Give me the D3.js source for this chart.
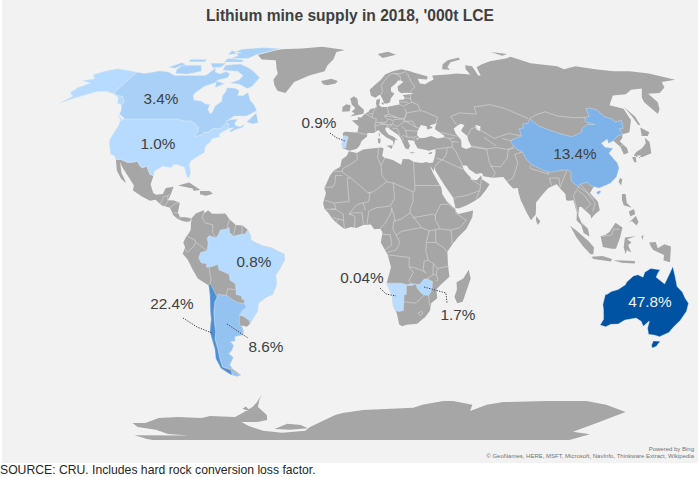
<!DOCTYPE html>
<html>
<head>
<meta charset="utf-8">
<script src="https://cdn.jsdelivr.net/npm/d3@7"></script>
<style>
html,body{margin:0;padding:0;background:#fff;}
svg{display:block;}
text{font-family:"Liberation Sans",Arial,sans-serif;}
</style>
</head>
<body>
<script>
var w = 698;
var h = 477;

//-----values-----
var countries = ["Australia","Chile","China","Argentina","Canada","Zimbabwe","USA","Portugal","Brazil","Namibia"];
var shares = [47.8,22.4,13.4,8.6,3.4,1.7,1.0,0.9,0.8,0.04];
var shareLabels = ["47.8%","22.4%","13.4%","8.6%","3.4%","1.7%","1.0%","0.9%","0.8%","0.04%"];

//-----robinson table-----
var robLat = [0,5,10,15,20,25,30,35,40,45,50,55,60,65,70,75,80,85,90];
var robLen = [1,.9986,.9954,.99,.9822,.973,.96,.9427,.9216,.8962,.8679,.835,.7986,.7597,.7186,.6732,.6213,.5722,.5322];
var robDepth = [0,.062,.124,.186,.248,.31,.372,.434,.4958,.5571,.6176,.6769,.7346,.7903,.8435,.8936,.9394,.9761,1];

//-----outlines, lon/lat-----
var usaLower = [[-124.7,48.4],[-123,49],[-95.2,49],[-94.6,48.7],[-92,48.3],[-89.6,48],[-88.4,48.3],[-84.9,46.9],[-84.5,46.5],[-83.5,46],[-82.5,45.3],[-82.1,43.5],[-82.5,42.6],[-83.1,42.1],[-82.4,41.7],[-79,42.8],[-79.1,43.4],[-76.8,43.6],[-76.3,44.2],[-75,45],[-71.5,45],[-70.8,45.4],[-70.3,46.2],[-70,46.7],[-69.2,47.4],[-68.3,47.3],[-67.8,47],[-67.8,45.7],[-67,44.9],[-69,44],[-70.7,43],[-71,42.3],[-70,41.7],[-71.4,41.4],[-74,40.7],[-74,39.5],[-75.5,38.5],[-76,37],[-75.6,35.3],[-77,34.5],[-79,33.3],[-81,32],[-81.4,30.5],[-80.5,28.3],[-80,26.8],[-80.4,25.2],[-81.2,25.2],[-82,26.7],[-82.8,28],[-83.5,29.4],[-85,29.7],[-87,30.4],[-89,30.3],[-89.5,29.2],[-91,29.3],[-93.8,29.7],[-95,29],[-97.2,27.7],[-97.2,25.9],[-99,26.4],[-100.5,28.5],[-101.5,29.8],[-103,29],[-104.5,29.7],[-106.5,31.8],[-108.2,31.4],[-111,31.3],[-114.8,32.5],[-117.1,32.5],[-118.5,34],[-120.6,34.6],[-122,36.8],[-123.8,39.3],[-124.3,40.4],[-124.2,43],[-124,46.3]];
var alaska = [[-141,69.6],[-148,70.4],[-156.5,71.3],[-162,70.2],[-166.5,68.4],[-162,66.5],[-168,65.6],[-161,64.5],[-165,62.5],[-166,60.3],[-162,58.6],[-165,55.6],[-160,57.8],[-155,59.5],[-151,60.7],[-146,60.8],[-141,59.8],[-136,58.2],[-133,55.5],[-130.3,54.8],[-130,56],[-134,58.6],[-137.5,59],[-141,60.3]];
var canadaMain = [[-141,69.6],[-135,69],[-128,70.2],[-122,69.8],[-115,68],[-108,68],[-100,68],[-96,68.2],[-94,71.8],[-92,69.7],[-88,68.8],[-85,69.8],[-82,69],[-81.5,67],[-86,66],[-87,64.6],[-92,63],[-94.5,60],[-94.5,58.8],[-92.5,57],[-88,56.5],[-85,55.3],[-82.3,55],[-82,53],[-80,51.3],[-79,51.5],[-79,54.5],[-76.8,56.5],[-78,58.7],[-77.5,60.5],[-78,62.4],[-73,62.2],[-70,61],[-69.5,59],[-66.5,58.8],[-64.5,60.3],[-61.5,57],[-58,54.8],[-55.7,52.5],[-60,50.2],[-66.5,50.2],[-70,47.8],[-68,48.7],[-64.4,49],[-64.5,47.9],[-65,47],[-64,46.2],[-61.5,45.8],[-60,46.9],[-60,45.9],[-61,45.2],[-63.5,44.6],[-65.6,43.5],[-66.2,44.3],[-64.5,45.3],[-67,45.1],[-67.8,45.7],[-67.8,47],[-68.3,47.3],[-69.2,47.4],[-70,46.7],[-70.3,46.2],[-70.8,45.4],[-71.5,45],[-75,45],[-76.3,44.2],[-76.8,43.6],[-79.1,43.4],[-79,42.8],[-82.4,41.7],[-83.1,42.1],[-82.5,42.6],[-82.1,43.5],[-82.5,45.3],[-83.5,46],[-84.5,46.5],[-84.9,46.9],[-88.4,48.3],[-89.6,48],[-92,48.3],[-94.6,48.7],[-95.2,49],[-123,49],[-125,50],[-127.5,51],[-128,52.5],[-130.3,54.8],[-130,56],[-134,58.6],[-137.5,59],[-141,60.3]];
var canadaIslands = [
 [[-59,47.7],[-55.5,51.5],[-53,47.5],[-55.5,46.9]],
 [[-128,50.7],[-123.5,48.4],[-125,48.8]],
 [[-80,73.7],[-72,71.5],[-68,70],[-62,67],[-64,63],[-66,62],[-72,64],[-78,64.5],[-73.5,66],[-73,68],[-78,70],[-88,70.5],[-89,73]],
 [[-117,73],[-105,73],[-101,70],[-108,68.7],[-116,69],[-118,71]],
 [[-125,72],[-120,74.3],[-116,73.5],[-120,71.5]],
 [[-90,76.5],[-78,76.5],[-75,78.5],[-66,81],[-62,82.5],[-75,83],[-90,82],[-92,80],[-87,78]],
 [[-92,76.5],[-80,75.7],[-80,74.6],[-92,74.7]],
 [[-117,76],[-106,76],[-105,74.8],[-116,74.8]],
 [[-96,81],[-87,79.5],[-95,78.5]],
 [[-100,74],[-90,74],[-91,72],[-96,71.8]],
 [[-87,65.5],[-81,64.2],[-85,62.5]]
];
var mexicoCentral = [[-117.1,32.5],[-114.8,32.5],[-111,31.3],[-108.2,31.4],[-106.5,31.8],[-104.5,29.7],[-103,29],[-101.5,29.8],[-100.5,28.5],[-99,26.4],[-97.2,25.9],[-97.8,22.4],[-96,19],[-94.5,18.2],[-91.5,18.5],[-90.5,21],[-87,21.5],[-87.8,18.3],[-88.8,16],[-86,15.9],[-83.2,15],[-83.7,11],[-82.5,9.2],[-80,9.2],[-77.4,8.7],[-78,7.5],[-80,7.4],[-81.7,7.8],[-83.6,8.5],[-85.7,10],[-87.5,13],[-91.5,14],[-94.5,16.2],[-97,15.8],[-101,17.5],[-105.5,20],[-105.5,22],[-109,25.7],[-112.5,29],[-114.7,31.5],[-112.5,27],[-110,24],[-109.5,23],[-112,24.7],[-115,28]];
var southAmerica = [[-77.4,8.7],[-75.5,10.7],[-72,12],[-71.5,10.8],[-70,12],[-68,10.6],[-64,10.6],[-62,10.7],[-60,8.4],[-57,6],[-54,5.8],[-51.6,4.2],[-50,1.5],[-50,0],[-48,-1],[-44,-2.5],[-41,-3],[-37,-4.8],[-35,-5.5],[-34.8,-8],[-37,-11.5],[-39,-14],[-39,-18],[-41,-22],[-44,-23],[-48,-25.5],[-48.7,-28.5],[-52,-32.3],[-53.5,-34],[-55,-35],[-57.5,-34.5],[-57,-36.5],[-57.7,-38.2],[-62,-39],[-62.3,-40.8],[-65,-41],[-63.7,-42.5],[-65.3,-44.5],[-67.5,-46],[-65.8,-47.5],[-69,-50.5],[-68.4,-52.4],[-65.2,-54.8],[-68,-55.5],[-71,-54.5],[-74.5,-52],[-75,-48],[-73.7,-44],[-73.5,-40],[-73.5,-37],[-71.5,-32],[-71,-28],[-70.2,-22],[-70.3,-18.3],[-75,-15.5],[-77,-12],[-79,-8],[-81.2,-5.5],[-80,-3],[-80.8,-1],[-79.7,1],[-78.5,2.5],[-77.5,4],[-77.5,7]];
var brazil = [[-51.6,4.2],[-50,1.5],[-50,0],[-48,-1],[-44,-2.5],[-41,-3],[-37,-4.8],[-35,-5.5],[-34.8,-8],[-37,-11.5],[-39,-14],[-39,-18],[-41,-22],[-44,-23],[-48,-25.5],[-48.7,-28.5],[-52,-32.3],[-53.4,-33.7],[-53.2,-32.7],[-55.5,-30.9],[-57.6,-30.2],[-55.8,-28.3],[-53.8,-27],[-54.6,-25.6],[-54.3,-24],[-55.4,-24],[-55.7,-22.4],[-58,-22],[-57.8,-20],[-58,-17.5],[-60.2,-16.3],[-60.5,-13.8],[-65,-12],[-65.4,-9.8],[-68,-10.7],[-70.6,-11],[-70.5,-9.5],[-72.8,-9.3],[-74,-7.3],[-73,-5],[-70,-4.3],[-69.5,-1],[-70,0.6],[-69.2,1.7],[-67,1.2],[-66,0.8],[-65,2],[-64,4],[-61,4.5],[-60,5.1],[-59.8,3],[-58,1.5],[-56,2],[-54,2.3],[-52.5,2.5]];
var argentina = [[-66.3,-21.8],[-64.5,-22.2],[-62.6,-22.2],[-60,-24],[-57.7,-25.2],[-54.6,-25.6],[-53.8,-27],[-55.8,-28.3],[-57.6,-30.2],[-58.2,-33],[-58.4,-34],[-57.2,-35.5],[-57.7,-38.2],[-62,-39],[-62.3,-40.8],[-65,-41],[-63.7,-42.5],[-65.3,-44.5],[-67.5,-46],[-65.8,-47.5],[-69,-50.5],[-68.4,-52.4],[-73.4,-51.5],[-73,-48],[-72.2,-44],[-72,-40],[-70.7,-37],[-70.2,-33],[-69.5,-29],[-68.3,-25],[-67,-23]];
var fuego = [[-69.5,-52.8],[-65.2,-54.8],[-68,-55.2],[-70,-54.8]];
var chile = [[-69.5,-17.5],[-68.3,-20],[-67,-23],[-68.3,-25],[-69.5,-29],[-70.2,-33],[-70.7,-37],[-72,-40],[-72.2,-44],[-73,-48],[-73.4,-51.5],[-69.5,-52.8],[-70,-54.8],[-71,-54.5],[-74.5,-52],[-75,-48],[-73.7,-44],[-73.5,-40],[-73.5,-37],[-71.5,-32],[-71,-28],[-70.2,-22],[-70.3,-18.3]];
var greenland = [[-73,78.2],[-68,76],[-58,75.5],[-54,71],[-52,69],[-53,66],[-51,63.5],[-48,61],[-43,60],[-40,65],[-32,68],[-23,70],[-22,73],[-19,76],[-18,80],[-12,81.5],[-30,83.6],[-45,82.5],[-60,82],[-65,81],[-73,78.5]];
var eurasia = [[-5.6,36],[-9,37],[-9.5,38.7],[-8.8,41.8],[-9.2,43.2],[-8,43.7],[-1.8,43.4],[-1.2,46],[-4.7,48.3],[-1.5,48.7],[-1.8,49.7],[0.2,49.6],[1.6,50.8],[4,52],[4.8,53],[8.5,53.8],[8.2,55.5],[8.5,57],[10.6,57.7],[10.3,56],[9.8,54.8],[11,54],[14,54],[18.5,54.7],[21,55],[21,57],[24,57.2],[24.3,58.3],[23.5,59.2],[28,59.5],[30,60],[25,60.1],[22.9,59.9],[21.3,61],[21.5,63],[25.3,65],[24,65.8],[22,65.6],[21,64.5],[17.5,62.5],[17.2,60.7],[19,59.8],[16.5,57.5],[16,56],[14.3,55.5],[12.8,55.5],[11.2,58.8],[10.5,59.3],[8,58],[5.6,58.8],[5,61.5],[8,63.5],[12,66],[15,68.5],[20,70],[26,71],[31,70],[33,69.4],[41,67.5],[40,66.2],[34.5,66.5],[35,64.3],[38,64],[40.5,65],[44,66.2],[44,68],[54,68.5],[60,69],[68,68.5],[67,71],[68.5,73],[72.5,72.5],[72.5,68],[74,68],[75,72],[80,73.5],[87,75],[100,76.5],[105,77.5],[113,74],[128,72.5],[130,71],[140,72.5],[150,71],[160,70],[170,70],[180,69],[190,66],[180,65],[177,62.5],[170,60],[163,59.7],[163,56],[160,53],[156.7,51],[155.5,56],[157,58],[163,62],[156,61.5],[150,59.5],[142,59],[135,54.7],[141,53.3],[140,48.5],[135,43.5],[131,42.7],[129.5,41],[127.5,39.8],[129.5,37],[129,35.2],[126.5,34.5],[126.5,37.5],[124.5,40],[121.5,39],[122,40.8],[118,39],[119,37.3],[122.5,37],[119.5,35],[121.8,31],[121.8,29],[119.5,25.5],[116,22.9],[110.5,21],[108,21.5],[105.8,19],[108.8,15.5],[109.3,12],[107,10.5],[105,8.7],[104.8,10],[102.5,12],[100.9,13.4],[100,13.3],[99.2,10],[100.5,7],[103.3,4.5],[103.9,1.4],[101.3,2.8],[100.3,6],[98.3,8],[98.7,11],[97.7,16],[95.5,15.8],[94.3,16],[94.4,18.5],[92.3,20.8],[91,22.5],[88.5,21.6],[86.9,21],[84,18.5],[80.3,15],[80.2,13],[79.8,10.3],[77.5,8],[75.5,11.5],[73.5,16],[72.8,19],[72.7,21],[70.5,20.8],[69,22.3],[67.3,24.5],[66.5,25.4],[61.5,25.1],[57.3,25.7],[56.8,27],[54,26.6],[51,28.5],[50,30],[48,30],[48.5,28.3],[50,26.5],[51.5,25],[51,24.5],[54,24.1],[56.3,26],[56.5,24.5],[59.8,22.5],[58,20.4],[55,17.3],[52,15.6],[48.5,14],[45,12.8],[43.3,12.8],[42.8,15],[42.5,17],[39.2,21.5],[37.2,24.5],[35,28],[34.9,29.5],[34.2,31.3],[35,32.8],[35.9,35],[36.2,36.7],[33,36],[30.5,36.5],[27.5,37],[26.3,39.3],[26.3,40],[23,40.3],[24,38],[23,36.5],[21.5,37],[19.5,41.5],[18.5,42.5],[15,44.5],[13.7,45.6],[12.3,45.3],[12.5,44],[14,42.5],[16.2,41.7],[18.4,40],[17,40.5],[16.5,39.5],[16,38],[15.7,40],[12.5,41.5],[10.3,43],[8.8,44.4],[6.5,43.2],[3.2,43.2],[3,41.8],[0.2,39.8],[-0.5,38.3],[-2,36.8]];
var africa = [[-5.9,35.8],[-2,35.1],[1,36.5],[5,36.9],[10,37.3],[11,36.9],[10.2,34],[11.2,33.2],[15.2,32.3],[19,30.3],[20,32.7],[23,32.6],[25.2,31.5],[29,31],[31,31.5],[32.6,31],[34.2,31.3],[34.9,29.5],[34.2,27.8],[32.6,30],[33.8,27],[35.8,23.5],[37.3,21],[37.5,18.5],[39.5,15.5],[43.2,12.5],[43.3,11.5],[44.5,10.5],[51.3,11.9],[50.8,9.3],[48,4.5],[44,1],[41.5,-1.8],[39.3,-4.7],[39.5,-7],[39.7,-10],[40.6,-14.8],[37,-17.8],[34.9,-19.9],[35.5,-23.5],[32.8,-25.5],[32.5,-28.5],[30.5,-31],[27,-33.8],[22,-34.2],[19.8,-34.8],[18.3,-34],[17,-29.7],[15,-26.5],[14.5,-22.5],[11.8,-17.5],[13.7,-11],[12.2,-6],[9,-1],[9.8,3],[8.8,4.5],[6,4.3],[4.5,6.3],[1,6],[-2,4.8],[-4.5,5.2],[-7.5,4.4],[-10.5,6.5],[-13,8.5],[-15,11],[-16.7,12.5],[-17.4,14.7],[-16.2,19],[-17,21],[-14.5,26],[-12.9,27.9],[-9.8,29.5],[-9.2,32.5],[-6.8,34]];
var greyIslands = [
 [[-24,65.5],[-18,66.5],[-14,65.5],[-15,64.3],[-20,63.5],[-22.5,64]],
 [[-85,22],[-80,23.2],[-74.3,20.2],[-77.5,19.9],[-78,20.8]],
 [[-74.4,19.8],[-70,19.8],[-68.4,18.6],[-71.5,17.8],[-74.4,18.4]],
 [[-5.5,50],[1.3,51.2],[1.6,52.7],[-1.5,55],[-2,57.5],[-4,58.6],[-6,57.5],[-5,55],[-3,53.5],[-5,52],[-3.3,51.4]],
 [[-10,52],[-6,52.2],[-5.6,54.7],[-8,55.2],[-10,54]],
 [[12,79],[20,80.3],[25,78.5],[15,76.8]],
 [[52,71],[54,73.5],[59,75.5],[68,77],[68,76],[60,74.5],[56,72],[57,70.8]],
 [[95,80],[105,79],[100,78]],
 [[12.5,38],[15.5,38.2],[15,36.7]],
 [[8.3,41],[9.7,41],[9.5,39],[8.5,39]],
 [[8.7,43],[9.5,43],[9.3,41.5]],
 [[23.5,35.5],[26.3,35.2],[24.5,34.9]],
 [[32.3,35],[34.5,35.6],[34,34.8],[33,34.6]],
 [[10.9,55.7],[12.5,56],[12.3,54.8]],
 [[142,54],[143.5,50],[143,46.5],[142,46.5],[142,50]],
 [[131,34],[135,33.5],[140,35],[142,39.5],[141,41.3],[139.8,39],[136.7,37],[133,35.5]],
 [[140,42],[142,45.4],[145,43.5],[143,42]],
 [[130,33.5],[131.8,33.5],[131,31.2],[130,31.5]],
 [[132.5,34],[134.5,34.2],[133.5,33]],
 [[121,25],[122,24.5],[120.8,22],[120,23.5]],
 [[80,9.7],[81.8,7.5],[80.5,6],[79.8,8]],
 [[95.3,5.6],[98,3.8],[103.5,-0.5],[106,-3],[105.8,-5.7],[104.5,-5.7],[101,-2.5],[98,1]],
 [[109,1.5],[111,2],[113,3.2],[116,7],[119,5],[117.8,1],[116,-3.5],[114,-3.5],[110,-2.8]],
 [[119.5,-3],[120,1],[125,1.5],[121,0.3],[123,-1],[121.5,-2],[123,-5],[121,-4],[120.5,-5.6]],
 [[105,-6.8],[110,-6.5],[114.5,-7.7],[114,-8.7],[106,-7.7]],
 [[115,-8.2],[119,-8.3],[125,-8.5],[125,-9.5],[119,-9.2]],
 [[131,-1],[134,-0.8],[135,-3.3],[138,-1.7],[141,-2.6],[141,-9],[138,-8.3],[138,-6],[133,-4],[132,-2.8]],
 [[120.5,18.5],[122.2,18.5],[122,15],[124,13],[120.5,14],[120,16]],
 [[122,7],[125.5,9.7],[126.5,7.3],[125.5,5.8],[123.5,7.7]],
 [[122.5,11.5],[125,12.5],[125.3,10.5],[123,9.5]],
 [[127.5,1.5],[128.5,2],[128,0]],
 [[49.3,-12],[50.4,-15.5],[47.5,-24.9],[45,-25.5],[43.5,-23],[44.4,-20],[44,-17],[47,-15.5]],
 // berkner and alexander islands
 [[-64,-80.7],[-52,-77.8],[-43,-78.4],[-39,-80.2],[-53,-81.2]],
 [[-75,-70],[-72,-69],[-71,-71.5]]
];
var antarctica = [[-160,-77.3],[-151,-77.3],[-136,-74.7],[-122,-74.1],[-107,-74.6],[-100,-73.6],[-84,-74.1],[-77,-72.1],[-68,-69.2],[-63.5,-66.9],[-58,-63.1],[-61,-65.5],[-64.6,-69.2],[-62,-73.1],[-64,-75.7],[-72,-76.8],[-83,-76.8],[-81,-78.9],[-74,-82],[-61,-83.4],[-42,-82],[-37,-79.5],[-17,-73.1],[-12,-72.1],[1.3,-70.6],[33,-69.6],[38,-68.2],[50,-66.4],[56,-66.4],[69,-68.2],[70,-71.1],[78,-68.2],[87,-66.9],[113,-66.4],[137,-66.4],[152,-68.2],[171,-71.7],[165,-77.3],[162,-82.7],[180,-84.4],[178,-90],[-178,-90],[-180,-89],[-180,-85],[-138,-85.3],[-151,-84.1],[-153,-81.2],[-162,-79.5]];
var seas = [
 [[47,45],[51,47],[53,46.5],[51,44.7],[50.5,44],[53,42],[53,40],[54,37.5],[51,36.7],[49,37.5],[49.5,40.3],[47.5,43]],
 [[28,42.5],[28.7,44.3],[30.7,46.5],[33.5,46],[33.4,44.6],[35.3,45],[36.5,45.3],[35,46.3],[39,47.2],[38,46],[37.5,44.7],[41.5,42.2],[41.5,41.5],[38,41],[35,42],[31.5,41.2],[29,41.2]],
 [[58.5,46.5],[61,46],[60,44],[58.5,44.5]],
 [[27,41],[29,41],[28,40.4]]
];
var australia = [[113.5,-22],[114.2,-22],[116,-20.8],[119,-20],[122,-18],[122.3,-17],[125,-14.5],[127,-14],[129.5,-15],[130,-13],[132.5,-11.5],[136.8,-12],[136,-13.5],[135.5,-15],[140,-17.7],[141.5,-13.5],[142.5,-10.7],[144,-14.3],[146,-18.8],[149,-21],[151,-23.5],[153.2,-25.5],[153.6,-28.7],[152.5,-32.5],[150.8,-35],[150,-37.3],[146.5,-39],[144,-38.4],[140.5,-38],[138.5,-35.5],[138,-33],[137.8,-32.7],[136,-34.8],[134,-32.8],[131,-31.5],[126,-32.3],[123.5,-33.9],[120,-34],[118,-35],[115,-34.3],[115.7,-32],[114.2,-28],[113.3,-26]];
var tasmania = [[144.7,-40.7],[148.3,-40.9],[148,-43],[146.5,-43.6],[145.3,-42.5]];
var china = [[73.7,39.4],[75,40.5],[80,42],[80.3,45],[82.5,45.2],[83,47],[85.7,47],[87.8,49.1],[91,46],[95.5,44.3],[101,42.6],[105,41.7],[111,43.5],[112,45],[116,46.7],[119.8,46.7],[115.8,47.8],[117,49.6],[119.5,50],[120.8,53.3],[123.5,53.5],[126,52.8],[127.5,50],[130.8,48.8],[131,47.7],[135,48.4],[133,45],[131,45],[131,43],[130.5,42.5],[128,42],[124.4,40],[121.5,39],[122,40.8],[118,39],[119,37.3],[122.5,37],[119.5,35],[121.8,31],[121.8,29],[119.5,25.5],[116,22.9],[110.5,21],[108,21.5],[106.7,22],[105.3,23.3],[102,22.5],[101,21.5],[99.5,22.5],[98,24],[98.7,27.5],[97,28.3],[92,27.8],[89,27.3],[86,28],[81,30.3],[79,32.5],[78,35.5],[75.5,36.7]];
var hainan = [[108.7,19.3],[110.5,20],[111,19.5],[109.5,18.2]];
var portugal = [[-9,37],[-7.4,37.2],[-7,39.6],[-6.3,41.6],[-8.2,42.1],[-8.8,41.8],[-9.5,38.7]];
var namibia = [[11.8,-17.3],[13.5,-17.4],[18.5,-17.4],[21,-18],[23.3,-17.6],[25.2,-17.8],[23.3,-18.3],[21,-18.3],[21,-22],[20,-22],[20,-28.4],[18,-28.8],[16.5,-28.6],[15,-26.5],[14.5,-22.5]];
var zimbabwe = [[25.3,-17.8],[27,-17.9],[29,-15.8],[30.4,-15.6],[32.9,-16.7],[32.9,-20],[31.5,-22.3],[29.4,-22.2],[28,-21.5],[26,-19.5]];

var borderLines = [
 // south america
 [[-71.5,11.8],[-72.5,9],[-71,6.9],[-67.5,6.1],[-67.5,3],[-66,1]],[[-78.8,1.4],[-75.5,0],[-75.2,-0.9],[-70,-4.3]],[[-80.2,-3.4],[-79,-5],[-76,-2.5],[-75.2,-0.9]],[[-69.5,-11],[-69,-16],[-69.5,-17.5]],[[-60,8.4],[-61,5]],[[-57,6],[-58,2]],[[-54,5.8],[-54.3,2.3]],[[-62.6,-22.2],[-61.7,-19.7],[-58,-20]],
 // central america
 [[-92,14.5],[-91,17.5],[-89,17.8],[-88.2,18.5]],[[-89,17.8],[-89,15.9]],[[-90,13.7],[-88.5,15.8]],[[-87.5,13],[-85,14.8],[-83.2,15]],[[-85.7,11],[-83.7,11]],[[-83,8.5],[-82.5,9.5]],[[-77.4,8.7],[-77.5,7.2]],
 // africa
 [[-2,35.1],[-1.7,32.5],[-5,30.5],[-8.7,28.7],[-8.7,27.3]],[[-8.7,27.7],[-13,27.7]],[[-8.7,26],[-12,26],[-12,23.5],[-13,21.3],[-17,21.3]],[[-8.7,27.3],[-4.8,25],[3.3,19],[4.2,19.1],[3.5,15.4],[1,15]],[[3.3,19],[5.8,19.5],[12,23.5]],[[8.5,37],[8,33],[9.5,30.2],[9.8,26],[12,23.5]],[[11.5,33.1],[9.5,30.2]],[[25,31.6],[25,22],[36.9,22]],[[12,23.5],[15,23],[24,19.5],[24,15.7],[22.5,12.8],[22.5,11]],[[24,19.5],[25,20],[25,22]],[[-4.8,25],[-6.5,25],[-5.5,15.5],[-11.5,15],[-12.2,14.8],[-16.5,16]],[[-12.2,14.8],[-11.5,12.4]],[[1,15],[-2,14.2],[-5.5,10.5]],[[3.6,11.7],[7,13],[13.5,13.7]],[[15,23],[15.5,16.8],[13.5,13.7]],[[8.6,4.6],[11,6.7],[13.7,11],[14,13],[15,10],[15.5,7.5]],[[15,7.5],[18.5,8.5],[22.5,11]],[[15,7.5],[14.5,4.5],[16,2],[18.5,3.5],[22.5,4.2],[27.5,5],[22.5,11]],[[23.5,9],[27,9.5],[33,10.5],[34,9.5]],[[36.5,14.3],[34.2,10.5],[34,9.5],[34,8],[36,4.5]],[[27.5,5],[31,3.7],[34,4.2],[36,4.5],[41,4],[41.5,-1.8]],[[41,4],[45,5],[48,8],[43,11]],[[36.5,14.3],[40,14.5],[42.7,12.7]],[[34,-1],[37.5,-3],[39.3,-4.7]],[[34,4.2],[34,-1],[29.7,-1]],[[31,3.7],[29.7,-1],[29.5,-4.5],[30.7,-8.2],[28.8,-8.5],[28.5,-12],[29.8,-13.3],[28,-12.3],[24,-11],[22,-11],[22,-7],[17,-6.5],[12.2,-6]],[[16,2],[17.7,-1],[16,-4],[12,-5]],[[9.8,2.2],[13.3,2.2],[14,-2],[11,-3.9]],[[22,-11],[24,-13],[22,-16.5],[23.3,-17.6]],[[30.7,-8.2],[33,-9.5],[33,-14],[34.5,-14],[35.5,-16],[34.4,-16.5]],[[33,-9.5],[34.9,-11.5],[40.4,-10.5]],[[34.9,-11.5],[34.5,-14]],[[30.4,-15.6],[33,-14]],[[20,-24.8],[23,-25.3],[25.8,-25.4],[29.4,-22.2]],[[31.5,-22.3],[32,-26],[32.8,-26.8]],[[27,-29.5],[28.5,-28.7],[29.3,-29.5],[28,-30.5],[27,-29.5]],[[-13.7,12.5],[-11.5,12.4],[-8,10.3],[-8,8],[-10.7,8.5],[-13,9]],[[-8,8],[-7.5,4.4]],[[-5.5,10.5],[-2.8,9.5],[-2.9,5.1]],[[-2.8,11],[0.5,11],[1.1,6.1]],[[2.7,6.4],[3.6,11.7]],[[-5.5,10.5],[-2.8,11]],[[1,15],[2,12]],[[-16.7,12.4],[-11.5,12.4]],[[-11.5,7],[-10,8.5]],
 // europe
 [[28,69.8],[29,69],[30,65],[31.5,62.8],[28,60.5]],[[24,65.8],[24,68],[20.5,69]],[[11.2,59],[12.3,61],[12,63.5],[14,65.5],[18,68.5],[20.5,69],[25,69],[28,69.8]],[[28,59.5],[27.5,57.5],[28,56],[26,55.5],[23,54.3],[21,55]],[[24.3,57.9],[27.5,57.6]],[[21,56.3],[26,56]],[[28,56],[31,55],[31.5,52.5],[24,51.5],[23.5,53.5]],[[31.5,52.5],[34,52],[40,49.7],[38.5,47]],[[24,51.5],[22.3,48.5],[28,45.5],[29.7,45.2]],[[14.2,54],[14.7,51],[19,49.5],[22.5,49],[24,51]],[[8.5,54.8],[6,51],[6,49.5],[8,49],[7.6,47.6],[13,47.5],[13.8,48.7],[12.2,50.3],[14.7,51]],[[2.5,51],[6,49.5]],[[7.6,47.6],[7,45.9],[7.5,43.8]],[[-1.8,43.4],[3.2,42.5]],[[4,51.3],[6,51]],[[7,45.9],[10.5,46.8],[13.7,46.5],[13.7,45.6]],[[9.6,47.3],[13.7,46.5],[16,46.8],[17,48],[15,48.9],[13.8,48.7]],[[12.2,50.3],[19,49.5]],[[17,48.7],[22.5,49]],[[16,46.8],[18.5,45.8],[22,47.8],[22.3,48.5]],[[22,47.8],[26.5,48.2],[28,45.5]],[[21,46],[22.5,44.3],[27,44],[28.5,43.8]],[[22.5,44.3],[23,41.5],[26.4,41.5],[28,42]],[[20,42],[21,40.7],[20,39.7]],[[15.8,45.2],[18.5,45],[19.4,42]],[[21,42.3],[23,41.5]],[[14.5,45.5],[16,46.5]],
 // asia
 [[26.4,41.5],[26.3,40.5]],[[41.5,41.5],[43.5,41],[44.8,39.7],[44.5,37.5],[42,37.2],[36.5,36.8]],[[40,43.5],[44,42.7],[48,41.8]],[[43.5,41],[46.5,41.2]],[[44.8,39.7],[48,39.5]],[[44.5,37.5],[46,35.5],[48,30]],[[54,37.4],[61,36.7],[61,31.5],[63,27],[61.5,25.2]],[[42,37.2],[41,34.5],[39,32.3],[46.5,29.1],[48,30]],[[36,33],[39,32.3],[37,31.5],[35,29.5]],[[46.5,29.1],[48.5,28.5]],[[51.5,24.4],[55.5,22],[55,20],[52,19],[49,18],[44,17.3],[42.8,16.4]],[[55,20],[53,16.7]],[[56.4,24.9],[55.5,22]],[[49,46.3],[47,50],[52,51.5],[61,51],[61,54],[70,55],[77,53.5],[87,49.2]],[[53,42],[56,45],[58.5,45.5],[61,44],[66,41],[70,42],[74,43],[80,42]],[[54,38],[61,36.7],[66,37.3],[71,36.5],[74,37.3],[75,38.5]],[[61,41.5],[66,38]],[[70,41],[74,40],[75,40.5]],[[61,29.8],[66,29.5],[70,33],[71.5,36.5],[74.5,37]],[[68.2,23.7],[71,25],[74.5,31],[74,34.5],[78,35.5]],[[80,30],[80,28.8],[88,26.5],[88,27.8]],[[88.5,22],[88,25],[92.5,25],[92.3,21]],[[97,28],[94,24],[92.5,21.5]],[[101,21.5],[98,18],[99,11]],[[101,21.5],[104.5,19],[107.5,15],[106,11.5]],[[100.5,20],[103,18],[105.5,14.5],[102.5,12.2]],[[102,22.5],[104,20],[107,16.5]],[[100.5,6.5],[102,6]],[[87.8,49.1],[92,50.7],[98,52],[103,50.2],[107,49.8],[112,49.5],[117,49.6]],[[126.5,37.8],[128.5,38.5]],[[130.5,42.5],[130.8,42.3]],[[115,4.5],[117.5,4.2]],[[109.7,1.5],[114,2],[115,4.5]]
];

//-----label placement, px-----
var labelPos = [[650,307],[172,309],[575,159],[266,352],[161,104],[458,320],[158,149],[319,128],[254,267],[362,283]];
var leaderLines = [null,
 [[183,318],[197,327],[212,333]],null,
 [[227,324],[248,338]],null,
 [[424,287],[446,293],[447,303]],null,
 [[330,133],[337,138],[345,141]],null,
 [[380,288],[386,294],[396,296]]];

drawContent();
function drawContent(){
    var absLat = d3.scaleLinear().domain(robLat);
    var lenScale = absLat.copy().range(robLen);
    var depthScale = absLat.copy().range(robDepth);
    var xScale = d3.scaleLinear().domain([0,1]).range([361,361+2.2]);
    var yScale = d3.scaleLinear().domain([0,1]).range([240,440]);

    var robinson = d3.geoTransform({
        point: function(lon,lat){
            var a = Math.abs(lat);
            this.stream.point(xScale(lon*lenScale(a)), yScale((lat>0?-1:1)*depthScale(a)));
        }
    });
    var path = d3.geoPath(robinson);

    function poly(list){
        return {type:"MultiPolygon",coordinates:list.map(function(r){return [r.concat([r[0]])];})};
    }

    var colorScale = d3.scaleLinear()
        .domain([0,1,3.4,8.6,13.4,22.4,47.8])
        .range(["#b9dcff","#b7dbff","#a9d1f8","#94c3f1","#7eb3e9","#4c8fd5","#0052a3"]);

    var svg = d3.select("body").append("svg")
        .attr("width",w)
        .attr("height",h);

    svg.append("rect")
        .attr("x",2).attr("y",0)
        .attr("width",w-2).attr("height",463)
        .attr("fill","#f2f2f2");

    var land = [greenland,eurasia,africa,southAmerica,mexicoCentral].concat(greyIslands,[antarctica]);
    svg.append("path")
        .datum(poly(land))
        .attr("d",path)
        .attr("fill","#a6a6a6");

    svg.append("path")
        .datum(poly(seas))
        .attr("d",path)
        .attr("fill","#f2f2f2");

    svg.append("path")
        .datum({type:"MultiLineString",coordinates:borderLines})
        .attr("d",path)
        .attr("fill","none")
        .attr("stroke","#d2d2d2")
        .attr("stroke-width",0.7);

    // shaded countries
    var shapes = {
        "Australia":[australia,tasmania],
        "Chile":[chile],
        "China":[china,hainan],
        "Argentina":[argentina,fuego],
        "Canada":[canadaMain].concat(canadaIslands),
        "Zimbabwe":[zimbabwe],
        "USA":[usaLower,alaska],
        "Portugal":[portugal],
        "Brazil":[brazil],
        "Namibia":[namibia]
    };
    // paint large shares last so chile sits on top of argentina
    var order = d3.range(countries.length).sort(function(a,b){return shares[a]-shares[b];});
    svg.selectAll("path.country")
        .data(order)
        .enter().append("path")
        .attr("class","country")
        .attr("d",function(i){return path(poly(shapes[countries[i]]));})
        .attr("fill",function(i){return colorScale(shares[i]);})
        .attr("stroke","#dfe9f3")
        .attr("stroke-width",0.4);

    //-----leaders-----
    var line = d3.line();
    svg.selectAll("path.leader")
        .data(leaderLines.filter(Boolean))
        .enter().append("path")
        .attr("class","leader")
        .attr("d",line)
        .attr("fill","none")
        .attr("stroke","#404040")
        .attr("stroke-width",1)
        .attr("stroke-dasharray","1.3 1.3");

    //-----labels-----
    svg.selectAll("text.share")
        .data(shareLabels)
        .enter().append("text")
        .attr("class","share")
        .text(function(d){return d;})
        .attr("x",function(d,i){return labelPos[i][0];})
        .attr("y",function(d,i){return labelPos[i][1];})
        .attr("text-anchor","middle")
        .attr("font-size",15.3)
        .attr("fill",function(d,i){return i===0?"#f2f2f2":"#404040";});

    svg.append("text")
        .text("Lithium mine supply in 2018, '000t LCE")
        .attr("x",350).attr("y",21)
        .attr("text-anchor","middle")
        .attr("font-size",15.6)
        .attr("font-weight","bold")
        .attr("fill","#404040");

    svg.append("text")
        .text("Powered by Bing")
        .attr("x",694).attr("y",451)
        .attr("text-anchor","end")
        .attr("font-size",6)
        .attr("fill","#737373");

    svg.append("text")
        .text("\u00a9 GeoNames, HERE, MSFT, Microsoft, NavInfo, Thinkware Extract, Wikipedia")
        .attr("x",694).attr("y",458)
        .attr("text-anchor","end")
        .attr("font-size",6)
        .attr("fill","#737373");

    svg.append("text")
        .text("SOURCE: CRU. Includes hard rock conversion loss factor.")
        .attr("x",0).attr("y",474)
        .attr("font-size",12.2)
        .attr("fill","#262626");
}
</script>
</body>
</html>
